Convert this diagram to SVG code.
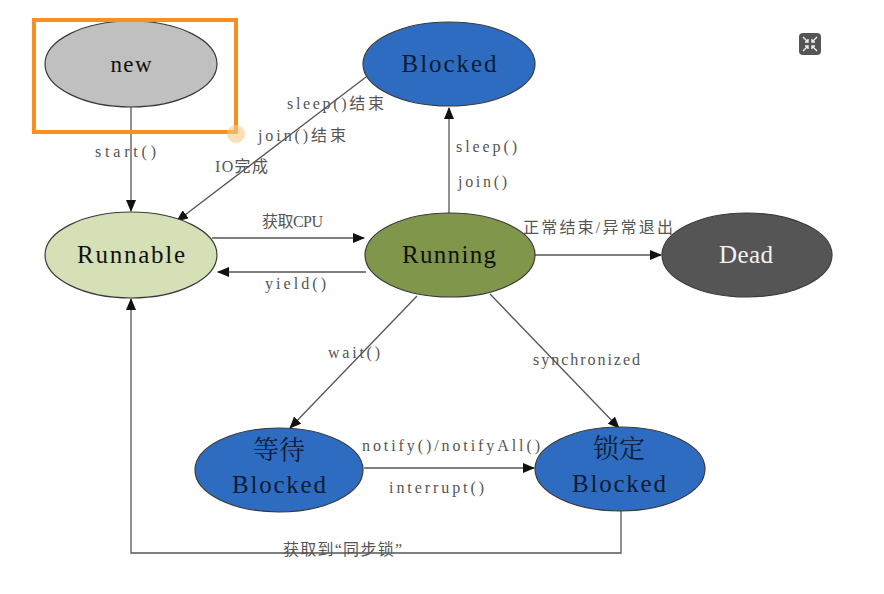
<svg xmlns="http://www.w3.org/2000/svg" width="884" height="594" viewBox="0 0 884 594">
<style>
.n{stroke:#3a3a3a;stroke-width:1.2}
.t{font-family:"Liberation Serif","Noto Serif CJK SC","Noto Sans CJK SC",serif;text-anchor:middle}
.big{font-size:25px}
.lbl{font-family:"Liberation Serif","Noto Sans CJK SC",serif;font-size:16px;fill:#555}
.c{fill:none;stroke:#555;stroke-width:1.3}
</style>
<defs>
<marker id="a" markerWidth="12" markerHeight="10" refX="11" refY="5" orient="auto" markerUnits="userSpaceOnUse">
<path d="M0,0 L12,5 L0,10 Z" fill="#111"/>
</marker>
</defs>
<rect width="884" height="594" fill="#fff"/>

<g id="connectors">
<path class="c" d="M131,107 V211" marker-end="url(#a)"/>
<path class="c" d="M366,77 L177,221" marker-end="url(#a)"/>
<path class="c" d="M449,213 V108" marker-end="url(#a)"/>
<path class="c" d="M212,238 H364" marker-end="url(#a)"/>
<path class="c" d="M366,272 H218" marker-end="url(#a)"/>
<path class="c" d="M535,255 H661" marker-end="url(#a)"/>
<path class="c" d="M417,296 L290,428" marker-end="url(#a)"/>
<path class="c" d="M490,294 L619,428" marker-end="url(#a)"/>
<path class="c" d="M364,468 H534" marker-end="url(#a)"/>
<path class="c" d="M621,511 V553 H131 V299" marker-end="url(#a)"/>
</g>

<g id="labels">
<text class="lbl" x="95" y="157" textLength="61">start()</text>
<text class="lbl" x="287" y="109" textLength="97">sleep()结束</text>
<text class="lbl" x="258" y="141" textLength="88">join()结束</text>
<text class="lbl" x="215" y="172" textLength="53">IO完成</text>
<text class="lbl" x="456" y="152" textLength="61">sleep()</text>
<text class="lbl" x="458" y="187" textLength="49">join()</text>
<text class="lbl" x="262" y="227" textLength="61">获取CPU</text>
<text class="lbl" x="265" y="289" textLength="61">yield()</text>
<text class="lbl" x="523" y="233" textLength="150">正常结束/异常退出</text>
<text class="lbl" x="328" y="358" textLength="52">wait()</text>
<text class="lbl" x="533" y="365" textLength="107">synchronized</text>
<text class="lbl" x="362" y="451" textLength="178">notify()/notifyAll()</text>
<text class="lbl" x="389" y="493" textLength="95">interrupt()</text>
<text class="lbl" x="283" y="555" textLength="119">获取到“同步锁”</text>
</g>

<g id="new">
<ellipse class="n" cx="131" cy="64" rx="86" ry="43" fill="#C0C0C0"/>
<text class="t" x="131" y="72" font-size="23" fill="#111" textLength="41">new</text>
</g>
<g id="blocked">
<ellipse class="n" cx="449" cy="64" rx="86" ry="42" fill="#2D6CC0"/>
<text class="t big" x="449" y="72" fill="#0E1C36" textLength="95">Blocked</text>
</g>
<g id="runnable">
<ellipse class="n" cx="131" cy="255" rx="86" ry="43" fill="#D5E0B7"/>
<text class="t big" x="131" y="263" fill="#111" textLength="108">Runnable</text>
</g>
<g id="running">
<ellipse class="n" cx="450" cy="255" rx="85" ry="42" fill="#80964A"/>
<text class="t big" x="449" y="263" fill="#111" textLength="94">Running</text>
</g>
<g id="dead">
<ellipse class="n" cx="747" cy="255" rx="85" ry="42" fill="#555555"/>
<text class="t big" x="746" y="263" fill="#F2F2F2" textLength="54">Dead</text>
</g>
<g id="wait-blocked">
<ellipse class="n" cx="279" cy="470" rx="84" ry="42" fill="#2D6CC0"/>
<text class="t" x="279" y="459" font-size="26" fill="#0E1C36">等待</text>
<text class="t big" x="279" y="493" fill="#0E1C36" textLength="94">Blocked</text>
</g>
<g id="lock-blocked">
<ellipse class="n" cx="620" cy="469" rx="85" ry="42" fill="#2D6CC0"/>
<text class="t" x="619" y="458" font-size="26" fill="#0E1C36">锁定</text>
<text class="t big" x="619" y="492" fill="#0E1C36" textLength="94">Blocked</text>
</g>

<rect x="34" y="20" width="202" height="112" fill="none" stroke="#F7901E" stroke-width="4"/>
<circle cx="236" cy="134" r="9" fill="#F9C98A" opacity="0.6"/>

<rect x="799" y="33" width="22" height="22" rx="4" fill="#555"/>
<path d="M803,37 L808,42 M808,39 V42 H805 M817,37 L812,42 M812,39 V42 H815 M803,51 L808,46 M808,49 V46 H805 M817,51 L812,46 M812,49 V46 H815" stroke="#eee" stroke-width="1.4" fill="none"/>
</svg>
